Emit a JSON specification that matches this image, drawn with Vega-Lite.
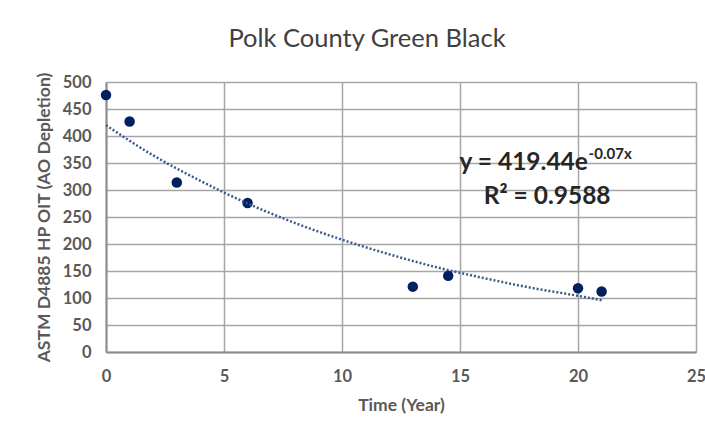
{
  "$schema": "https://vega.github.io/schema/vega-lite/v6.json",
  "width": 590,
  "height": 270,
  "autosize": {"type": "none"},
  "padding": {"left": 106, "top": 82, "right": 9, "bottom": 88},
  "background": "white",
  "title": {
    "text": "Polk County Green Black",
    "font": "Lato",
    "fontSize": 25.5,
    "fontWeight": "normal",
    "color": "#404040",
    "anchor": "middle",
    "dx": -34,
    "offset": 19
  },
  "config": {
    "view": {"stroke": null},
    "font": "Lato",
    "axis": {
      "labelFont": "Lato",
      "labelFontSize": 16.5,
      "labelFontWeight": "bold",
      "labelColor": "#595959",
      "labelOverlap": false,
      "labelFlush": false,
      "titleFont": "Lato",
      "titleFontSize": 17.5,
      "titleFontWeight": "bold",
      "titleColor": "#595959",
      "gridColor": "#a6a6a6",
      "gridWidth": 1.5,
      "domainColor": "#8c8c8c",
      "domainWidth": 2,
      "ticks": false
    }
  },
  "datasets": {
    "points": [
      {"time": 0, "oit": 476},
      {"time": 1, "oit": 427},
      {"time": 3, "oit": 314},
      {"time": 6, "oit": 276},
      {"time": 13, "oit": 121},
      {"time": 14.5, "oit": 141},
      {"time": 20, "oit": 118},
      {"time": 21, "oit": 112}
    ],
    "trend": [
      {"time": 0, "oit": 420},
      {"time": 2, "oit": 364},
      {"time": 4, "oit": 317},
      {"time": 6, "oit": 275},
      {"time": 8, "oit": 239},
      {"time": 10, "oit": 208},
      {"time": 12, "oit": 181},
      {"time": 14, "oit": 157},
      {"time": 16, "oit": 137},
      {"time": 18, "oit": 119},
      {"time": 20, "oit": 104},
      {"time": 21, "oit": 96}
    ]
  },
  "encoding": {
    "x": {
      "field": "time",
      "type": "quantitative",
      "scale": {"domain": [0, 25], "nice": false},
      "axis": {"values": [0, 5, 10, 15, 20, 25], "title": "Time (Year)", "labelPadding": 16, "titlePadding": 12}
    },
    "y": {
      "field": "oit",
      "type": "quantitative",
      "scale": {"domain": [0, 500], "nice": false},
      "axis": {"values": [0, 50, 100, 150, 200, 250, 300, 350, 400, 450, 500], "title": "ASTM D4885 HP OIT (AO Depletion)", "labelPadding": 15, "titlePadding": 9}
    }
  },
  "layer": [
    {
      "data": {"name": "points"},
      "mark": {"type": "point", "filled": true, "size": 110, "color": "#002060", "opacity": 1}
    },
    {
      "data": {"name": "trend"},
      "mark": {"type": "line", "color": "#3a5a8c", "strokeWidth": 2.5, "strokeDash": [2, 2], "interpolate": "monotone"}
    },
    {
      "data": {"values": [{"label": "y = 419.44e", "time": 20.42, "oit": 350}]},
      "mark": {"type": "text", "align": "right", "baseline": "middle", "font": "Lato", "fontSize": 24.5, "fontWeight": "bold", "color": "#262626"},
      "encoding": {"text": {"field": "label"}}
    },
    {
      "data": {"values": [{"label": "-0.07x", "time": 20.45, "oit": 367}]},
      "mark": {"type": "text", "align": "left", "baseline": "middle", "font": "Lato", "fontSize": 15, "fontWeight": "bold", "color": "#262626"},
      "encoding": {"text": {"field": "label"}}
    },
    {
      "data": {"values": [{"label": "R² = 0.9588", "time": 18.69, "oit": 287}]},
      "mark": {"type": "text", "align": "center", "baseline": "middle", "font": "Lato", "fontSize": 24.5, "fontWeight": "bold", "color": "#262626"},
      "encoding": {"text": {"field": "label"}}
    }
  ]
}
